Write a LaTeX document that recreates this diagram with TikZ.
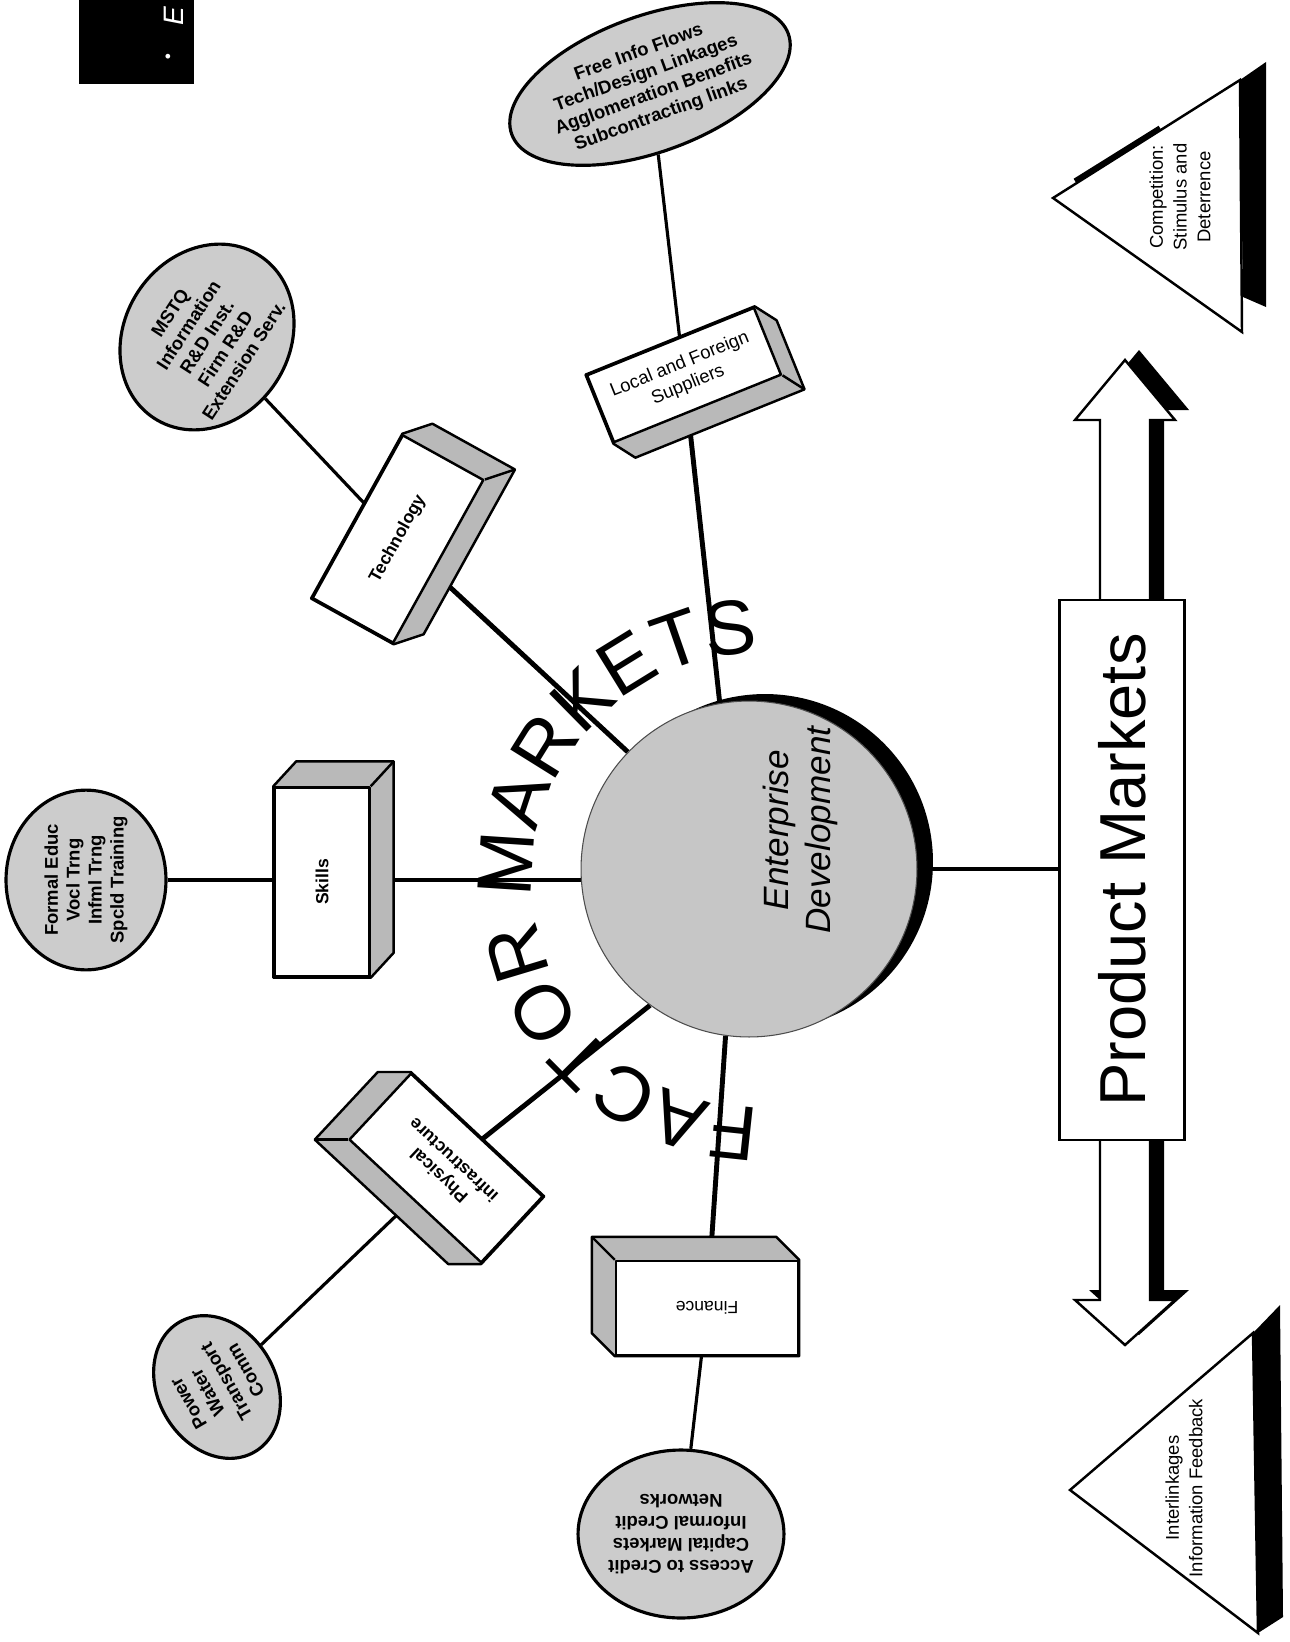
\documentclass[tikz,border=0pt]{standalone}
\usepackage{fontspec}
\setmainfont{Liberation Sans}
\usetikzlibrary{shapes.geometric,calc,decorations.text}
\pgfdeclarelayer{lines}
\pgfdeclarelayer{sides}
\pgfsetlayers{lines,sides,main}
\tikzset{
 frontface/.style={draw,fill=white,line width=1.4pt,line join=round,font=\bfseries\fontsize{10}{12}\selectfont,align=center,inner sep=0pt},
 sideface/.style={draw,fill=gray!55,line width=1.4pt,line join=round},
 blob/.style={ellipse,draw,fill=gray!40,line width=1.8pt,inner sep=0pt,align=center,font=\bfseries\fontsize{10.5}{12.5}\selectfont},
 inconn/.style={line width=2.8pt},
 outconn/.style={line width=1.8pt},
 trishape/.style={draw,fill=white,line width=1.4pt,line join=miter},
 tritext/.style={font=\fontsize{10.5}{13.5}\selectfont,align=center,rotate=90,inner sep=0pt},
}
\newcommand{\boxdepth}[6]{%
 \begin{pgfonlayer}{sides}
 \path[sideface] (#1.#5) -- (#1.#2) -- ($(#1.#2)+(#6)$) -- ($(#1.#3)+(#6)$) -- ($(#1.#4)+(#6)$) -- (#1.#4) -- cycle;
 \draw[line width=1.4pt] (#1.#3) -- ($(#1.#3)+(#6)$);
 \end{pgfonlayer}}
\begin{document}
\begin{tikzpicture}[x=0.02cm,y=-0.02cm]
\useasboundingbox (0,0) rectangle (1290,1642);
% black corner block
\fill[black] (79,0) rectangle (194,84);
\node[text=white,rotate=90,font=\itshape\fontsize{16}{16}\selectfont] (blkE) at (174,16) {E};
\node[text=white,font=\fontsize{10}{10}\selectfont] (blkdot) at (168,58) {•};
% central circle
\node[circle,fill=black,minimum size=6.72cm] (censh) at (765,862) {};
\node[circle,fill=gray!45,draw=gray!60!black,line width=0.6pt,minimum size=6.72cm] (cen) at (749,869) {};
\node[rotate=90,font=\itshape\fontsize{20}{24}\selectfont,align=center] (entxt) at (800,830) {Enterprise\\Development};
% boxes
\node[frontface,rotate=90,minimum width=3.78cm,minimum height=1.9cm] (skB) at (322,882) {Skills};
\node[frontface,rotate=61,minimum width=3.72cm,minimum height=1.84cm] (tcB) at (398,539) {Technology};
\node[frontface,rotate=22,minimum width=3.6cm,minimum height=1.44cm,font=\fontsize{10.5}{12.5}\selectfont] (suB) at (684,375) {Local and Foreign\\Suppliers};
\node[frontface,rotate=137,minimum width=3.6cm,minimum height=1.8cm] (pyB) at (446,1168) {Physical\\infrastructure};
\node[frontface,rotate=180,minimum width=3.64cm,minimum height=1.88cm,font=\fontsize{10}{12}\selectfont] (fiB) at (707,1308) {Finance};
\boxdepth{skB}{north east}{south east}{south west}{north west}{23,-25}
\boxdepth{tcB}{north east}{south east}{south west}{north west}{30,-10}
\boxdepth{suB}{north east}{south east}{south west}{north west}{22,14}
\boxdepth{pyB}{north west}{north east}{south east}{south west}{-33,0}
\boxdepth{fiB}{north east}{south east}{south west}{north west}{-23,-23}
% ellipses
\node[blob,rotate=20,minimum width=5.3cm,minimum height=2.72cm] (suE) at (650,84) {Free Info Flows\\Tech/Design Linkages\\Agglomeration Benefits\\Subcontracting links};
\node[blob,rotate=57,minimum width=3.4cm,minimum height=3.3cm] (tcE) at (207,337) {MSTQ\\Information\\R\&D Inst.\\Firm R\&D\\Extension Serv.};
\node[blob,rotate=90,minimum width=3.4cm,minimum height=3.2cm] (skE) at (86,880) {Formal Educ\\Vocl Trng\\Infml Trng\\Spcld Training};
\node[blob,rotate=120,minimum width=3.0cm,minimum height=2.36cm] (pwE) at (217,1387) {Power\\Water\\Transport\\Comm};
\node[blob,rotate=180,minimum width=3.56cm,minimum height=3.36cm] (acE) at (681,1534) {Access to Credit\\Capital Markets\\Informal Credit\\Networks};
% product markets arrow
\fill[black] (1139,350) -- (1189,410) -- (1164,410) -- (1164,1290) -- (1189,1290) -- (1139,1335) -- (1089,1290) -- (1114,1290) -- (1114,410) -- (1089,410) -- cycle;
\draw[fill=white,line width=1.4pt,line join=miter] (1125,360) -- (1175,420) -- (1150,420) -- (1150,1300) -- (1175,1300) -- (1125,1345) -- (1075,1300) -- (1100,1300) -- (1100,420) -- (1075,420) -- cycle;
\node[draw,fill=white,line width=1.6pt,rotate=90,minimum width=10.8cm,minimum height=2.5cm,font=\fontsize{37}{40}\selectfont,inner sep=0pt] (pm) at (1122,870) {Product Markets};
% triangles
\fill[black] (1253,1333) -- (1280,1305) -- (1283,1617) -- (1258,1633) -- cycle;
\draw[trishape] (1070,1490) -- (1253,1333) -- (1258,1633) -- cycle;
\node[tritext] (ilT) at (1184,1488) {Interlinkages\\Information Feedback};
\fill[black] (1240,80) -- (1266,62) -- (1266,307) -- (1243,297) -- cycle;
\draw[trishape] (1053,198) -- (1240,80) -- (1242,332) -- cycle;
\draw[line width=3pt] (1075,181) -- (1160,128);
\node[tritext] (coT) at (1180,197) {Competition:\\Stimulus and\\Deterrence};
% connectors
\begin{pgfonlayer}{lines}
\draw[outconn] (skE) -- (skE -| skB);
\draw[inconn] (skE -| skB) -- (skE -| cen);
\draw[outconn] (tcE) -- (tcB);
\draw[inconn] (tcB) -- (cen.136);
\draw[outconn] (suE) -- (suB);
\draw[inconn] (suB) -- (cen.100);
\draw[inconn] (pyB) -- (cen.234);
\draw[outconn] (pyB) -- (pwE);
\draw[inconn] (fiB) -- (cen.262);
\draw[outconn] (fiB) -- (acE);
\draw[line width=2.4pt] (cen) -- (cen -| pm);
\end{pgfonlayer}
% FACTOR MARKETS
\coordinate (fm) at (760,880);
\path[decorate,decoration={text along path,text={|\fontsize{44}{44}\selectfont|FACTOR MARKETS},text align=center}] ($(fm)+(268:4.55cm)$) arc[start angle=268,end angle=92,radius=4.55cm];
\end{tikzpicture}
\end{document}
